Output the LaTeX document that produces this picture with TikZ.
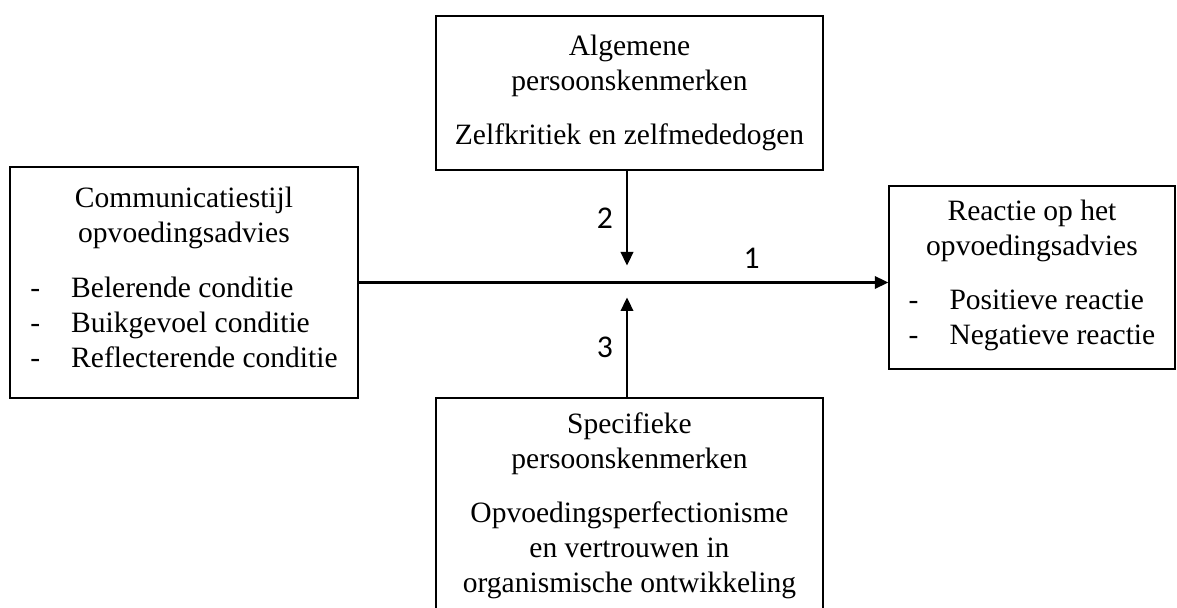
\documentclass[tikz,border=0pt]{standalone}
\usepackage{fontspec}
\setmainfont{Liberation Serif}
\newfontfamily\numfont{Carlito}
\usepackage{tikz}
\usetikzlibrary{arrows.meta, positioning, calc}
\tikzset{
    modelbox/.style={
        draw=black, line width=0.85pt,
        align=center, inner sep=0pt,
        font=\fontsize{16.8}{19.9}\selectfont
    },
    modelarrow/.style={-{Triangle[length=0.27cm, width=0.25cm]}, line width=1.3pt},
    pathnum/.style={font=\numfont\fontsize{18}{21}\selectfont},
}
\newcommand{\condlist}[1]{\begin{tabular}[t]{@{}l@{\hspace{0.62cm}}l@{}}#1\end{tabular}}

\begin{document}
\begin{tikzpicture}
    \useasboundingbox (0,0) rectangle (23.54,-12.16);

    \node[modelbox, minimum width=6.96cm, minimum height=4.62cm] (comm) at (3.68,-5.65)
          {Communicatiestijl\\opvoedingsadvies\\[11pt]
           \condlist{- & Belerende conditie\\ - & Buikgevoel conditie\\ - & Reflecterende conditie}};
    \node[modelbox, minimum width=7.74cm, minimum height=3.08cm] (alg) at (12.59,-1.86)
          {Algemene\\persoonskenmerken\\[11pt]Zelfkritiek en zelfmededogen};
    \node[modelbox, minimum width=5.72cm, minimum height=3.66cm] (reac) at (20.64,-5.55)
          {Reactie op het\\opvoedingsadvies\\[11pt]
           \condlist{- & Positieve reactie\\ - & Negatieve reactie}};
    \node[modelbox, minimum width=7.74cm, minimum height=4.32cm] (spec) at (12.59,-10.12)
          {Specifieke\\persoonskenmerken\\[11pt]Opvoedingsperfectionisme\\en vertrouwen in\\organismische ontwikkeling};

    % main path
    \coordinate (mid) at (12.54,-5.65);
    \draw[modelarrow] (comm.east) -- (comm.east -| reac.west)
          node[pathnum, pos=0.742, above=0.14cm] (n1) {1};

    % moderators
    \draw[modelarrow] (alg.south -| mid) -- ($(mid)+(0,0.34)$)
          node[pathnum, midway, left=0.14cm] (n2) {2};
    \draw[modelarrow] (spec.north -| mid) -- ($(mid)+(0,-0.30)$)
          node[pathnum, midway, left=0.14cm] (n3) {3};
\end{tikzpicture}
\end{document}
